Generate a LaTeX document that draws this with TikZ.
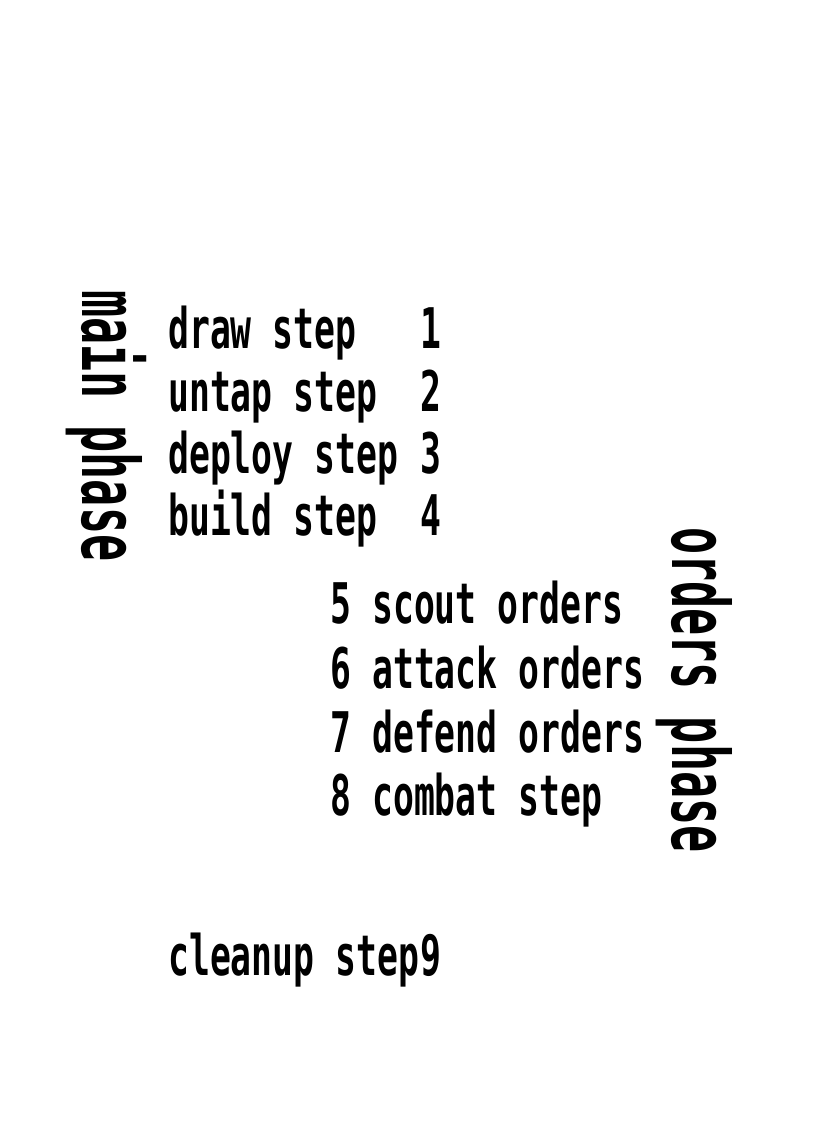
\documentclass[tikz,border=0pt]{standalone}
\usepackage{fontspec}
\usepackage{tikz}
\newfontfamily\pixfont[FakeStretch=0.62]{DejaVu Sans Mono}
\newfontfamily\pixbig[FakeStretch=0.57]{DejaVu Sans Mono}
\tikzset{
  steptext/.style={inner sep=0pt, anchor=base west,
    font=\pixfont\bfseries\fontsize{56}{64}\selectfont},
  phasetext/.style={inner sep=0pt, anchor=base west, rotate=-90,
    font=\pixbig\bfseries\fontsize{79}{90}\selectfont}
}

\begin{document}
\begin{tikzpicture}[x=1pt, y=-1pt]
  \useasboundingbox (0,0) rectangle (825,1125);

  % --- MAIN PHASE ---
  \node[phasetext] (mainphase) at (82, 290) {main phase};

  \node[steptext] (step1) at (168, 348) {draw step};
  \node[steptext] (num1) at (420, 348) {1};
  \node[steptext] (step2) at (168, 411) {untap step};
  \node[steptext] (num2) at (420, 411) {2};
  \node[steptext] (step3) at (168, 473) {deploy step};
  \node[steptext] (num3) at (420, 473) {3};
  \node[steptext] (step4) at (168, 535) {build step};
  \node[steptext] (num4) at (420, 535) {4};

  % --- ORDERS PHASE ---
  \node[phasetext] (ordersphase) at (672, 527) {orders phase};

  \node[steptext] (num5) at (330, 623) {5};
  \node[steptext] (step5) at (372, 623) {scout orders};
  \node[steptext] (num6) at (330, 688) {6};
  \node[steptext] (step6) at (372, 688) {attack orders};
  \node[steptext] (num7) at (330, 752) {7};
  \node[steptext] (step7) at (372, 752) {defend orders};
  \node[steptext] (num8) at (330, 815) {8};
  \node[steptext] (step8) at (372, 815) {combat step};

  % --- CLEANUP ---
  \node[steptext] (step9) at (168, 975) {cleanup step};
  \node[steptext] (num9) at (420, 975) {9};
\end{tikzpicture}
\end{document}
